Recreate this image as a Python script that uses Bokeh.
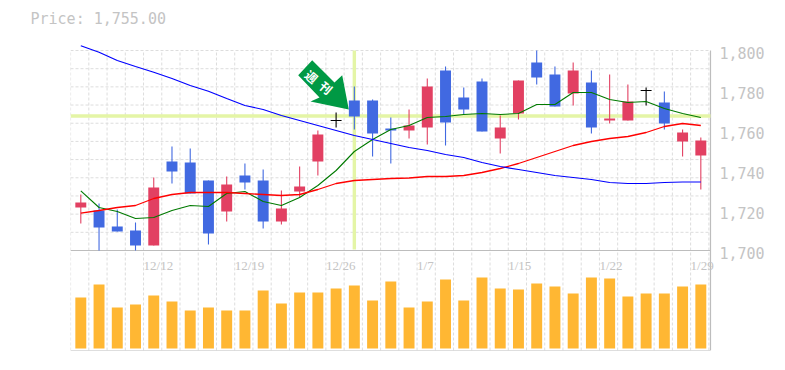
from bokeh.plotting import figure
from bokeh.embed import file_html
from bokeh.resources import INLINE
from bokeh.models import Range1d, LinearAxis, FixedTicker, NumeralTickFormatter, PolyAnnotation, Label
from bokeh.core.properties import value

title_text = "Price: 1,755.00"
opens_top = [1724,1720,1712,1710,1731.5,1744.5,1744,1735,1733,1737.5,1735,1721,1732,1758,1765,1775,1775,1761,1762.5,1782,1790,1776.5,1784.5,1761.5,1785,1794,1788,1790,1784,1766,1774.5,1780,1774,1759,1755]
body_bot = [1721.5,1711.5,1709.5,1702.5,1702.5,1739.5,1728.5,1708.5,1719.5,1734,1714.5,1714.5,1729.5,1744.5,1765,1767,1758.5,1760,1760,1761.5,1764,1770.5,1759.5,1756,1768.5,1786.5,1772,1778.5,1761.5,1765,1765,1780,1763.5,1754.5,1747.5]
highs = [1728,1723.5,1720.5,1714,1736.5,1752,1751,1735,1737,1743.5,1740.5,1730,1742,1760,1769,1782,1775.5,1766.5,1770.5,1786,1792,1781.5,1786,1767.5,1785,1800,1792,1794,1790,1788,1783,1781.5,1779.5,1760.5,1756.5]
lows = [1713.5,1700,1709.5,1700,1702.5,1733.5,1728.5,1703,1714.5,1730.5,1711,1713,1726.5,1737.5,1761.5,1760.5,1747,1743.5,1756,1753,1752.5,1768,1759.5,1748.5,1765.5,1783,1772,1772.5,1758.5,1763.5,1765,1772.5,1760.5,1747,1730.5]
kinds = list("RBBBRBBBRBBRRRXBBBRRBBBRRBBRBRRXBRR")
ma_short = [1729.85,1721.5,1719.5,1716,1716.5,1720,1722.5,1722,1728.5,1729.5,1724.5,1722.5,1726.5,1732.5,1740,1749.5,1755.5,1760.5,1762.5,1766.5,1767,1768,1768.5,1768,1768.5,1773,1773,1779,1779,1775.5,1774,1774.5,1771,1768.5,1766.5]
ma_mid = [1718.65,1720,1721.5,1722.5,1726,1728,1729,1729,1729,1728.5,1728,1727.5,1728,1730.5,1733.5,1735,1735.5,1736,1736.25,1737,1737,1737.5,1739,1741,1743.5,1746.5,1749.5,1752.5,1754.5,1756,1757,1759,1762,1763.5,1762.5]
ma_long = [1802.35,1799.15,1795,1792,1789.15,1786,1782.5,1779.65,1776,1772.5,1770.5,1767.5,1765,1762.5,1760,1757.5,1755.5,1753.5,1751.5,1750,1748,1746.5,1744,1742,1740.5,1739,1737.5,1736.5,1735.5,1734,1733.5,1733.5,1734,1734.25,1734.25]
volumes = [51,64,41,44,53,47,38,41,38,38,58,45,56,56,60,63,48,67,41,47,69,48,71,60,59,65,62,55,71,70,52,55,55,62,64]
date_labels = ["12/12","12/19","12/26","1/7","1/15","1/22","1/29"]
date_slots = [3,8,13,18,23,28,33]
price_ticks = [1700,1720,1740,1760,1780,1800]
marker_price = 1767.25
marker_slot = 15

BLUE, RED, BLACK = "#4169e1", "#e24062", "#000000"
GREY = "#bdbdbd"
n = len(volumes)
idx = list(range(n))

p = figure(width=777, height=360, output_backend="svg", toolbar_location=None,
           x_range=Range1d(-0.565, 34.75), y_range=Range1d(1650, 1808),
           min_border_left=70, min_border_right=63, min_border_top=34, min_border_bottom=10,
           outline_line_color=None, title=title_text)
p.title.text_color = "#c4c4c4"
p.title.text_font = "DejaVu Sans Mono"
p.title.text_font_size = "15px"
p.title.text_font_style = "normal"
p.title.align = "left"
p.title.offset = -40
p.title.standoff = 14
p.grid.visible = False
p.xaxis.visible = False
p.yaxis.visible = False
p.extra_y_ranges = {"vol": Range1d(-2, 314), "lab": Range1d(1651, 1809)}

axis = LinearAxis(y_range_name="lab", ticker=FixedTicker(ticks=price_ticks),
                  formatter=NumeralTickFormatter(format="0,0"),
                  axis_line_color=None, major_tick_line_color=None, minor_tick_line_color=None,
                  major_label_standoff=-1, major_label_text_color="#c4c4c4",
                  major_label_text_font="DejaVu Sans Mono", major_label_text_font_size="15px")
p.add_layout(axis, "right")

# grid
gx = [-0.56 + i for i in range(n + 1)]
p.segment(gx, 1650, gx, 1800, line_color="#dddddd", line_dash="3 2", line_width=1, level="underlay")
gy = [1700 + k * 100 / 11 for k in range(1, 12)]
p.segment(-0.565, gy, 34.53, gy, line_color="#dddddd", line_dash="3 2", line_width=1, level="underlay")

# frame
p.segment(-0.565, [1700, 1650], 34.53, [1700, 1650], line_color=GREY, line_width=1.2)
p.segment(34.53, 1650, 34.53, 1800, line_color=GREY, line_width=1.2)

# marker lines
p.segment(-0.565, marker_price, 34.53, marker_price, line_color="#e4f5a6", line_width=3.4)
p.segment(marker_slot, 1700.5, marker_slot, 1800, line_color="#e4f5a6", line_width=3.4)

# volume
p.vbar(x=idx, top=volumes, bottom=0, width=0.6, fill_color="#ffb733", line_color=None, y_range_name="vol")

# candles
colors = [{"R": RED, "B": BLUE, "X": BLACK}[k] for k in kinds]
p.segment(idx, lows, idx, highs, line_color=colors, line_width=1.1)
p.vbar(x=idx, top=opens_top, bottom=body_bot, width=0.6, fill_color=colors, line_color=None)
cross = [i for i in idx if kinds[i] == "X"]
p.segment([i - 0.3 for i in cross], [opens_top[i] for i in cross], [i + 0.3 for i in cross], [opens_top[i] for i in cross],
          line_color=BLACK, line_width=1.1)

# moving averages
p.line(idx, ma_short, line_color="#007a00", line_width=1.1)
p.line(idx, ma_mid, line_color="#ff0000", line_width=1.3)
p.line(idx, ma_long, line_color="#0000ff", line_width=1.2)

# date labels
p.text([date_slots[i] + 0.44 for i in range(len(date_slots))], 1700, text=date_labels, x_offset=0, y_offset=7,
       text_font=value("Liberation Sans Narrow"), text_font_size="13px", text_color="#c4c4c4",
       text_align="left", text_baseline="top")

# arrow callout; screen units are measured from the frame's lower left corner
FL, FB = 70, 350
arrow_px = [(311.7, 59.7), (297.7, 74.7), (319, 97), (310, 101), (348.3, 109), (341.7, 74.7), (334, 82)]
p.add_layout(PolyAnnotation(xs=[a - FL for a, b in arrow_px], ys=[FB - b for a, b in arrow_px],
                            xs_units="screen", ys_units="screen",
                            fill_color="#009944", fill_alpha=1, line_color=None))
for ch, (cx, cy) in zip("週刊", [(311.5, 76), (326, 87)]):
    p.add_layout(Label(x=cx - FL, y=FB - cy, x_units="screen", y_units="screen", text=ch, angle=-40, angle_units="deg",
                       text_color="#ffffff", text_font_size="12px", text_font_style="bold", text_font="Noto Sans CJK JP",
                       text_align="center", text_baseline="middle"))

open("out.html", "w").write(file_html(p, INLINE))
